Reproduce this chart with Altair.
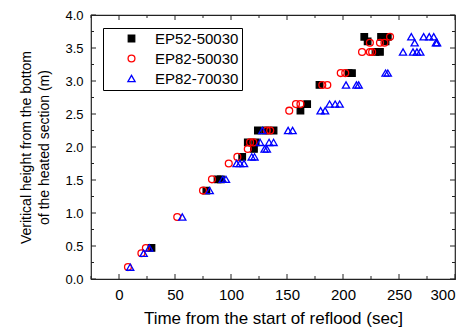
import altair as alt
import pandas as pd

series = ["EP52-50030", "EP82-50030", "EP82-70030"]

# EP52-50030 (black squares)
sq_t = [29, 78, 88, 91, 110, 120.5, 115, 122, 124, 131, 138, 162, 168, 179, 205, 208, 229, 233, 222, 238, 219, 234, 240]
sq_h = [0.47, 1.34, 1.51, 1.51, 1.85, 1.97, 2.07, 2.07, 2.25, 2.25, 2.25, 2.55, 2.65, 2.94, 3.12, 3.12, 3.44, 3.44, 3.60, 3.60, 3.67, 3.67, 3.67]

# EP82-50030 (red circles)
ci_t = [8, 20, 24, 52, 75, 83, 98, 105.7, 115, 117, 120, 132, 135, 152, 158, 162, 181.5, 186, 198, 202, 217, 224, 226, 224, 233, 237, 242]
ci_h = [0.18, 0.39, 0.47, 0.94, 1.34, 1.51, 1.75, 1.85, 1.97, 2.07, 2.07, 2.25, 2.25, 2.55, 2.65, 2.65, 2.94, 2.94, 3.12, 3.12, 3.44, 3.44, 3.44, 3.58, 3.58, 3.58, 3.67]

# EP82-70030 (blue triangles)
tr_t = [10, 22, 27, 56.5, 81, 92.6, 95.5, 105, 108, 111.6, 118.5, 121, 130, 132, 126, 134, 138, 128, 151, 155,
        180, 184, 188, 193, 197, 202.7, 212, 214, 238, 240, 253.6, 262.5, 266, 269, 264, 283, 284, 261, 272, 277, 281]
tr_h = [0.18, 0.39, 0.47, 0.94, 1.34, 1.51, 1.51, 1.75, 1.75, 1.75, 1.85, 1.85, 1.97, 1.97, 2.07, 2.07, 2.07, 2.25, 2.25, 2.25,
        2.55, 2.55, 2.65, 2.65, 2.65, 2.94, 2.94, 2.94, 3.12, 3.12, 3.44, 3.44, 3.44, 3.44, 3.58, 3.58, 3.58, 3.67, 3.67, 3.67, 3.67]

x_major = [0, 50, 100, 150, 200, 250, 300]
x_minor = [-25, 25, 75, 125, 175, 225, 275]
y_major = [0.0, 0.5, 1.0, 1.5, 2.0, 2.5, 3.0, 3.5, 4.0]
y_minor = [0.25, 0.75, 1.25, 1.75, 2.25, 2.75, 3.25, 3.75]

rows = []
for name, ts, hs in zip(series, [sq_t, ci_t, tr_t], [sq_h, ci_h, tr_h]):
    for t, h in zip(ts, hs):
        rows.append({"series": name, "t": t, "h": h})
df = pd.DataFrame(rows)

W, H = 364, 264
FONT = "Liberation Sans"
AX = "#222222"

xscale = alt.Scale(domain=[-25, 300], nice=False, zero=False)
yscale = alt.Scale(domain=[0, 4], nice=False, zero=False)

xaxis = alt.Axis(values=x_major, title="Time from the start of reflood (sec]", ticks=False, domain=False,
                 grid=False, labelPadding=8, format="d", labelFontSize=15, titleFontSize=17,
                 titleFontWeight="normal", titlePadding=8, labelColor="black", titleColor="black")
yaxis = alt.Axis(values=y_major, title=["Veritical height from the bottom", "of the heated section (m)"],
                 ticks=False, domain=False, grid=False, labelPadding=8, format=".1f", labelFontSize=13,
                 titleFontSize=14, titleFontWeight="normal", titlePadding=13, titleLineHeight=18,
                 labelColor="black", titleColor="black")

leg = alt.Legend(title=None, orient="none", legendX=12, legendY=13, strokeColor="black",
                 padding=3, symbolOffset=18, labelOffset=16, labelFontSize=15, labelFont=FONT,
                 symbolSize=45, symbolStrokeWidth=1.3, rowPadding=4, labelColor="black")

points = alt.Chart(df).mark_point(filled=False, strokeWidth=1.3, opacity=1).encode(
    x=alt.X("t:Q", scale=xscale, axis=xaxis),
    y=alt.Y("h:Q", scale=yscale, axis=yaxis),
    color=alt.Color("series:N", scale=alt.Scale(domain=series, range=["black", "#ff0000", "#0000ff"]), legend=leg),
    shape=alt.Shape("series:N", scale=alt.Scale(domain=series, range=["square", "circle", "triangle-up"]), legend=leg),
    fill=alt.Fill("series:N", scale=alt.Scale(domain=series, range=["black", "transparent", "transparent"]), legend=leg),
    size=alt.Size("series:N", scale=alt.Scale(domain=series, range=[42, 52, 62]), legend=None),
)

def xticks(vals, length):
    d = pd.DataFrame({"t": vals})
    bottom = alt.Chart(d).mark_rule(color=AX, strokeWidth=1).encode(
        x=alt.X("t:Q", scale=xscale, axis=xaxis), y=alt.value(H), y2=alt.value(H - length))
    top = alt.Chart(d).mark_rule(color=AX, strokeWidth=1).encode(
        x=alt.X("t:Q", scale=xscale, axis=xaxis), y=alt.value(0), y2=alt.value(length))
    return [bottom, top]

def yticks(vals, length):
    d = pd.DataFrame({"h": vals})
    left = alt.Chart(d).mark_rule(color=AX, strokeWidth=1).encode(
        y=alt.Y("h:Q", scale=yscale, axis=yaxis), x=alt.value(0), x2=alt.value(length))
    right = alt.Chart(d).mark_rule(color=AX, strokeWidth=1).encode(
        y=alt.Y("h:Q", scale=yscale, axis=yaxis), x=alt.value(W), x2=alt.value(W - length))
    return [left, right]

layers = xticks(x_major, 5) + xticks(x_minor, 3) + yticks(y_major, 5) + yticks(y_minor, 3) + [points]

chart = alt.layer(*layers).properties(
    width=W, height=H,
    autosize=alt.AutoSizeParams(type="none"),
    padding={"left": 83, "top": 7, "right": 10, "bottom": 52},
).configure(font=FONT).configure_view(stroke=AX, strokeWidth=1.2)

chart.save("out.html", embed_options={"renderer": "svg", "actions": False})
